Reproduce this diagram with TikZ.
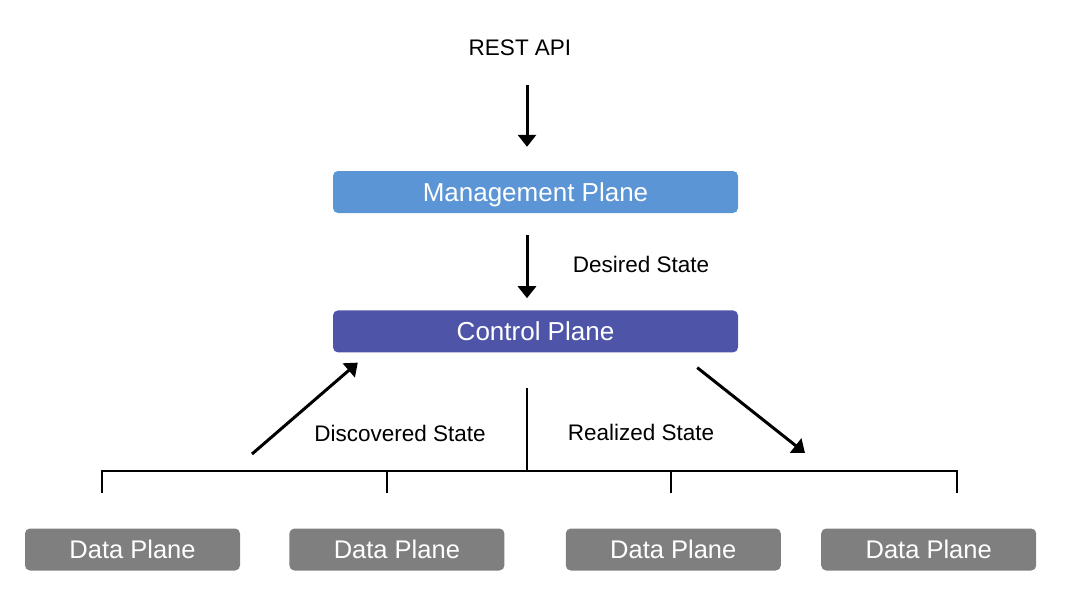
\documentclass[tikz,border=0pt]{standalone}
\usepackage{fontspec}
\setmainfont{Liberation Sans}
\usepackage{xcolor}
\definecolor{MgmtBlue}{HTML}{5B95D5}
\definecolor{CtrlIndigo}{HTML}{4E55A9}
\definecolor{DataGrey}{HTML}{7F7F7F}
\usepackage{tikz}
\usetikzlibrary{arrows.meta,positioning,calc}

\begin{document}
\begin{tikzpicture}[
  x=1pt,y=-1pt,
  plane/.style={rounded corners=5pt,text=white,minimum height=42pt,inner sep=0pt,text depth=0pt,font=\fontsize{26}{30}\selectfont},
  dplane/.style={plane,fill=DataGrey,minimum width=215pt,font=\fontsize{25.5}{30}\selectfont},
  lbl/.style={inner sep=0pt,font=\fontsize{22.5}{27}\selectfont},
  arr/.style={-{Triangle[length=12pt,width=18pt]},line width=3pt},
  tree/.style={line width=1.8pt}
]
  \useasboundingbox (0,0) rectangle (1065,608);
  % planes
  \node[plane,fill=MgmtBlue,minimum width=405pt] (mgmt) at (535.5,192) {Management Plane};
  \node[plane,fill=CtrlIndigo,minimum width=405pt,below=97pt of mgmt] (ctrl) {Control Plane};
  \node[dplane] (dp1) at (132.5,549.5) {Data Plane};
  \node[dplane,right=49pt of dp1] (dp2) {Data Plane};
  \node[dplane,right=61pt of dp2] (dp3) {Data Plane};
  \node[dplane,right=40pt of dp3] (dp4) {Data Plane};
  % labels
  \node[lbl] (api) at (520,48) {REST API};
  \node[lbl] (desired) at (641,264) {Desired State};
  \node[lbl] (discovered) at (400,433) {Discovered State};
  \node[lbl] (realized) at (641,432) {Realized State};
  \coordinate (stem) at (527,0);
  \coordinate (dtail) at (252,454);
  \coordinate (rtip) at (805,453);
  \coordinate (hub) at (527,388);
  \coordinate (bus) at (527,471);
  % arrows
  \draw[arr,shorten <=29pt,shorten >=24pt] (api.south -| stem) -- (mgmt.north -| stem);
  \draw[arr,shorten <=22pt,shorten >=12pt] (mgmt.south -| stem) -- (ctrl.north -| stem);
  \draw[arr] (dtail) -- ([shift={(25,10)}]ctrl.south west);
  \draw[arr] ([shift={(-41,15)}]ctrl.south east) -- (rtip);
  % tree
  \draw[tree] (hub) -- (bus);
  \draw[tree] (102,493) -- (102,471) -- (957,471) -- (957,493);
  \foreach \x in {387,671}
    \draw[tree] (\x,471) -- (\x,493);
\end{tikzpicture}
\end{document}
